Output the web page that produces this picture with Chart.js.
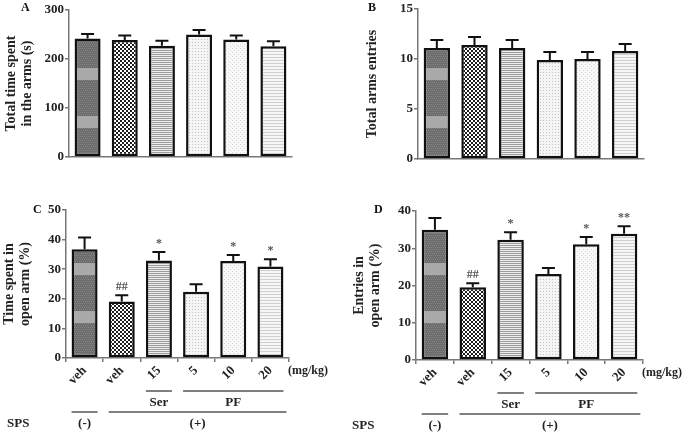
<!DOCTYPE html>
<html>
<head>
<meta charset="utf-8">
<script src="https://cdn.jsdelivr.net/npm/chart.js@4.4.1/dist/chart.umd.min.js"></script>
<style>
  body { margin: 0; background: #fff; }
  #wrap { position: relative; width: 685px; height: 434px; background: #fff; overflow: hidden; }
  canvas { position: absolute; }
  .tag { position: absolute; font: bold 12px "Liberation Serif", serif; color: #111; }
</style>
</head>
<body>
<div id="wrap">
  <canvas id="cA" width="345" height="195" style="left:0;top:0"></canvas>
  <canvas id="cB" width="340" height="195" style="left:345px;top:0"></canvas>
  <canvas id="cC" width="345" height="239" style="left:0;top:195px"></canvas>
  <canvas id="cD" width="340" height="239" style="left:345px;top:195px"></canvas>
  <div class="tag" style="left:21px;top:0px">A</div>
  <div class="tag" style="left:368px;top:0px">B</div>
  <div class="tag" style="left:33px;top:202px">C</div>
  <div class="tag" style="left:374px;top:202px">D</div>
</div>
<script>
// group labels (dose) and data
const doses = ['veh', 'veh', '15', '5', '10', '20'];

const timeArms = [242, 239, 227, 250, 240, 226];
const timeArmsErr = [9, 9, 10, 9, 8, 10];

const totalEntries = [11.1, 11.4, 11.1, 9.9, 10.0, 10.8];
const totalEntriesErr = [0.8, 0.8, 0.8, 0.8, 0.7, 0.7];

const timeOpen = [36.7, 19.1, 32.9, 22.4, 32.8, 30.9];
const timeOpenErr = [4.0, 2.1, 2.9, 2.5, 2.0, 2.5];
const timeOpenSig = ['', '##', '*', '', '*', '*'];

const entriesOpen = [35.0, 19.5, 32.3, 23.1, 31.1, 33.9];
const entriesOpenErr = [3.1, 1.1, 2.0, 1.6, 1.9, 2.0];
const entriesOpenSig = ['', '##', '*', '', '*', '**'];

const drugGroups = [{ label: 'Ser', from: 2, to: 2 }, { label: 'PF', from: 3, to: 5 }];
const spsGroups = [{ label: '(-)', from: 0, to: 0 }, { label: '(+)', from: 1, to: 5 }];

const SERIF = '"Liberation Serif", "Times New Roman", serif';
const AXIS = '#777';

function tile(w, h, draw) {
    const c = document.createElement('canvas');
    c.width = w; c.height = h;
    const g = c.getContext('2d');
    draw(g);
    return g.createPattern(c, 'repeat');
}

// bar fills, one per group
const fills = [
    tile(2, 48, g => {
        g.fillStyle = '#6c6c6c'; g.fillRect(0, 0, 2, 48);
        g.fillStyle = '#858585'; for (let y = 0; y < 48; y += 2) g.fillRect(y % 4 ? 1 : 0, y, 1, 1);
        g.fillStyle = '#a9a9a9'; g.fillRect(0, 20, 2, 12);
    }),
    tile(4, 4, g => {
        g.fillStyle = '#fff'; g.fillRect(0, 0, 4, 4);
        g.fillStyle = '#1c1c1c'; g.fillRect(0, 0, 2, 2); g.fillRect(2, 2, 2, 2);
    }),
    tile(1, 2, g => {
        g.fillStyle = '#eeeeee'; g.fillRect(0, 0, 1, 2);
        g.fillStyle = '#9c9c9c'; g.fillRect(0, 0, 1, 1);
    }),
    tile(3, 3, g => {
        g.fillStyle = '#f5f5f5'; g.fillRect(0, 0, 3, 3);
        g.fillStyle = '#c4c4c4'; g.fillRect(0, 0, 1, 1);
    }),
    tile(4, 4, g => {
        g.fillStyle = '#f8f8f8'; g.fillRect(0, 0, 4, 4);
        g.fillStyle = '#d8d8d8'; g.fillRect(0, 0, 1, 1); g.fillRect(2, 2, 1, 1);
    }),
    tile(1, 3, g => {
        g.fillStyle = '#f6f6f6'; g.fillRect(0, 0, 1, 3);
        g.fillStyle = '#cfcfcf'; g.fillRect(0, 0, 1, 1);
    })
];

// SEM whiskers (upper only) plus significance marks
const errorBars = {
    id: 'errorBars',
    afterDatasetsDraw(chart, args, opts) {
        const ctx = chart.ctx;
        const y = chart.scales.y;
        const ds = chart.data.datasets[0];
        chart.getDatasetMeta(0).data.forEach((bar, i) => {
            const top = y.getPixelForValue(ds.data[i] + opts.err[i]);
            ctx.save();
            ctx.strokeStyle = '#111';
            ctx.lineWidth = 2;
            ctx.beginPath();
            ctx.moveTo(bar.x, bar.y);
            ctx.lineTo(bar.x, top);
            ctx.moveTo(bar.x - 6.5, top);
            ctx.lineTo(bar.x + 6.5, top);
            ctx.stroke();
            if (opts.sig && opts.sig[i]) {
                ctx.fillStyle = '#555';
                ctx.font = 'bold 12px ' + SERIF;
                ctx.textAlign = 'center';
                ctx.textBaseline = 'bottom';
                ctx.fillText(opts.sig[i], bar.x, top - 2);
            }
            ctx.restore();
        });
    }
};

// treatment brackets under the x axis of C and D
const groupLines = {
    id: 'groupLines',
    afterDraw(chart, args, opts) {
        if (!opts.on) return;
        const ctx = chart.ctx, a = chart.chartArea;
        const bars = chart.getDatasetMeta(0).data;
        const L = i => bars[i].x - bars[i].width / 2;
        const R = i => bars[i].x + bars[i].width / 2;
        ctx.save();
        ctx.strokeStyle = '#555';
        ctx.lineWidth = 1.5;
        ctx.fillStyle = '#222';
        ctx.font = 'bold 13px ' + SERIF;
        ctx.textAlign = 'center';
        ctx.textBaseline = 'middle';
        const row = (groups, dy, extra) => groups.forEach(g => {
            const x0 = L(g.from), x1 = R(g.to) + (g.to === 5 ? extra : 0);
            ctx.beginPath();
            ctx.moveTo(x0, a.bottom + dy);
            ctx.lineTo(x1, a.bottom + dy);
            ctx.stroke();
            ctx.fillText(g.label, (x0 + x1) / 2, a.bottom + dy + 12);
        });
        row(drugGroups, 33, 0);
        row(spsGroups, 54, 3);
        ctx.textAlign = 'left';
        ctx.fillText('SPS', opts.spsX, a.bottom + 66);
        ctx.font = 'bold 12px ' + SERIF;
        ctx.fillText('(mg/kg)', a.right - 1, a.bottom + 13);
        ctx.restore();
    }
};

function panel(id, cfg) {
    new Chart(document.getElementById(id), {
        type: 'bar',
        data: {
            labels: doses,
            datasets: [{
                data: cfg.values,
                backgroundColor: fills,
                borderColor: '#111',
                borderWidth: 2.5,
                borderSkipped: false,
                barPercentage: 0.7,
                categoryPercentage: 1.0
            }]
        },
        plugins: [errorBars, groupLines],
        options: {
            responsive: false,
            animation: false,
            layout: { padding: { left: 0, top: cfg.top, right: cfg.right, bottom: 0 } },
            plugins: {
                legend: { display: false },
                tooltip: { enabled: false },
                errorBars: { err: cfg.err, sig: cfg.sig },
                groupLines: { on: !!cfg.xTicks, spsX: 7 }
            },
            scales: {
                x: {
                    afterFit: s => { s.height = cfg.xHeight; },
                    grid: { display: true, drawOnChartArea: false, drawTicks: !!cfg.xTicks, tickLength: 4, color: AXIS, lineWidth: 1.5 },
                    border: { display: true, color: AXIS, width: 1.5 },
                    ticks: {
                        display: !!cfg.xTicks,
                        minRotation: 45, maxRotation: 45,
                        padding: 1,
                        color: '#222',
                        font: { family: SERIF, size: 13, weight: 'bold' }
                    }
                },
                y: {
                    min: 0, max: cfg.max,
                    afterFit: s => { s.width = cfg.yWidth; },
                    grid: { display: true, drawOnChartArea: false, drawTicks: true, tickLength: 4, color: AXIS, lineWidth: 1.5 },
                    border: { display: true, color: AXIS, width: 1.5 },
                    ticks: {
                        stepSize: cfg.step,
                        padding: 1,
                        color: '#222',
                        font: { family: SERIF, size: 13, weight: 'bold' }
                    },
                    title: {
                        display: true,
                        text: cfg.title,
                        color: '#222',
                        padding: { top: cfg.titlePad, bottom: 0 },
                        font: { family: SERIF, size: 14, weight: 'bold', lineHeight: 1.15 }
                    }
                }
            }
        }
    });
}

panel('cA', { values: timeArms, err: timeArmsErr, max: 300, step: 100,
    title: ['Total time spent', 'in the arms (s)'], titlePad: 3,
    top: 10, right: 53, yWidth: 69, xHeight: 38 });
panel('cB', { values: totalEntries, err: totalEntriesErr, max: 15, step: 5,
    title: 'Total arms entries', titlePad: 19,
    top: 9, right: 41, yWidth: 73, xHeight: 36 });
panel('cC', { values: timeOpen, err: timeOpenErr, sig: timeOpenSig, max: 50, step: 10,
    title: ['Time spent in', 'open arm (%)'], titlePad: 1.5,
    top: 15, right: 56, yWidth: 66, xHeight: 76, xTicks: true });
panel('cD', { values: entriesOpen, err: entriesOpenErr, sig: entriesOpenSig, max: 40, step: 10,
    title: ['Entries in', 'open arm (%)'], titlePad: 6,
    top: 16, right: 42, yWidth: 71, xHeight: 74, xTicks: true });
</script>
</body>
</html>
